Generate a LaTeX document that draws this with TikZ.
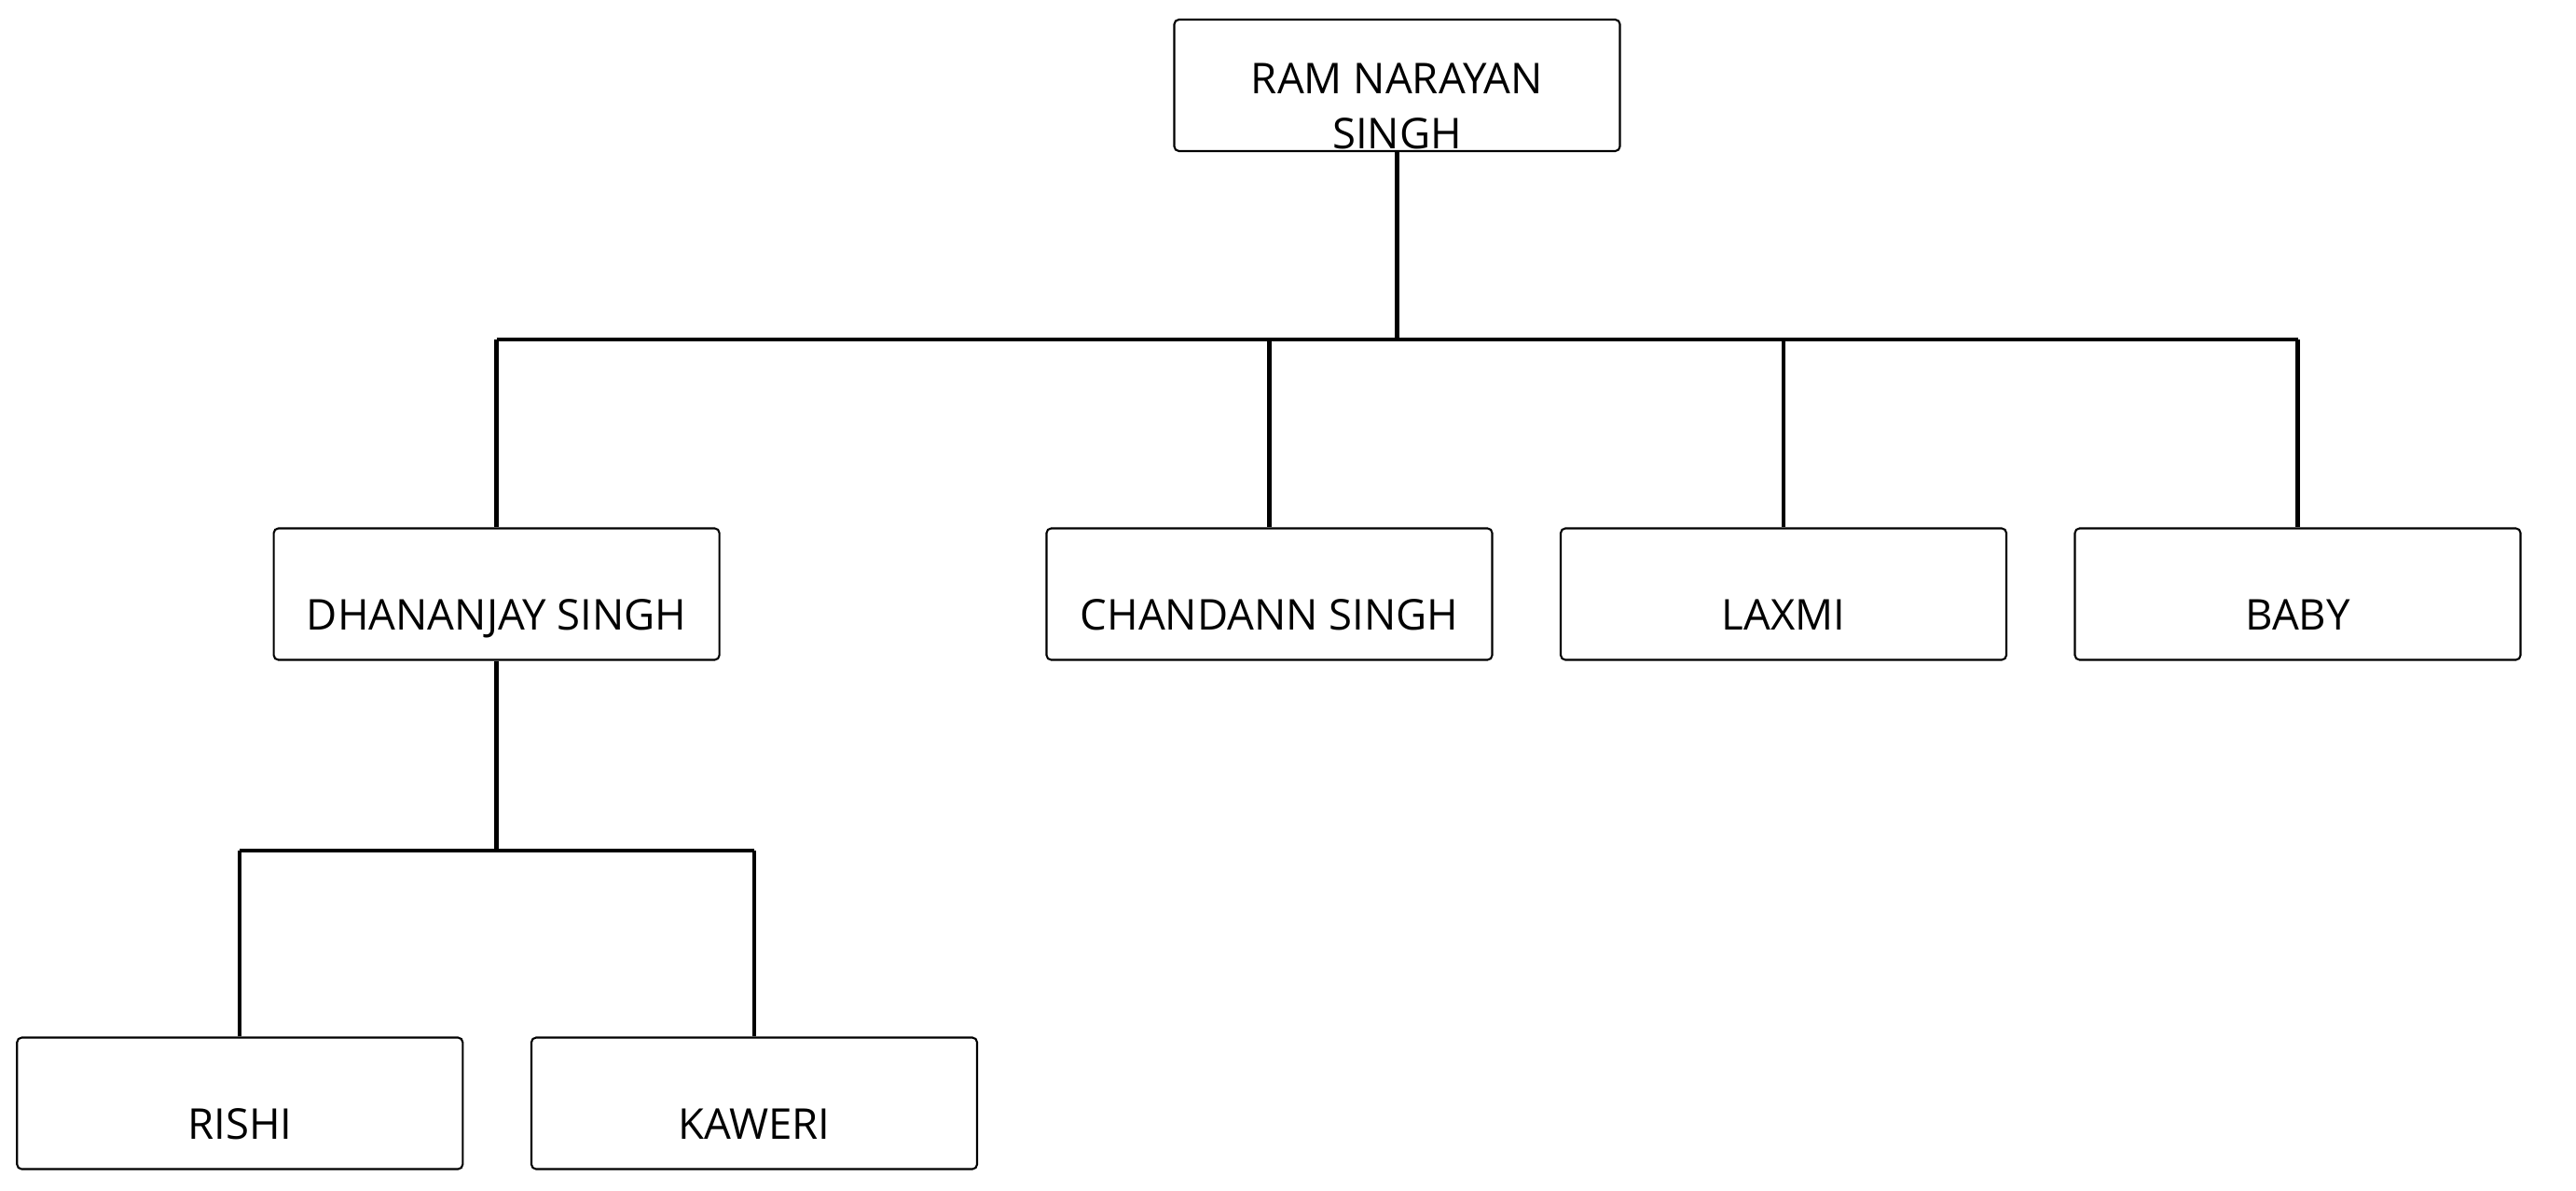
\documentclass[tikz,border=0pt]{standalone}
\usepackage{fontspec}
\setmainfont{Open Sans}
\begin{document}
\begin{tikzpicture}[
  personbox/.style = {draw = black, line width = 0.6pt, rounded corners = 0.05cm, minimum width = 4.78cm, minimum height = 1.41cm, inner sep = 0pt},
  persontext/.style = {anchor = base, inner sep = 0pt, align = center, font = \fontsize{12.95}{16.6}\selectfont},
  link/.style = {draw = black, line width = 1.2pt}
]
\useasboundingbox (0,0) rectangle (27.63,-12.76);
\node[personbox] (ram) at (14.985,-0.915) {};
\node[personbox] (dhananjay) at (5.326,-6.37) {};
\node[personbox] (chandann) at (13.615,-6.37) {};
\node[personbox] (laxmi) at (19.13,-6.37) {};
\node[personbox] (baby) at (24.645,-6.37) {};
\node[personbox] (rishi) at (2.573,-11.83) {};
\node[personbox] (kaweri) at (8.09,-11.83) {};
\node[persontext] (ram-txt) at ([yshift=0.04cm]ram.south) {RAM NARAYAN\\SINGH};
\foreach \who/\name in {dhananjay/DHANANJAY SINGH, chandann/CHANDANN SINGH, laxmi/LAXMI, baby/BABY, rishi/RISHI, kaweri/KAWERI}
  \node[persontext] (\who-txt) at ([yshift=0.33cm]\who.south) {\name};
\coordinate (bar1) at (0,-3.64);
\coordinate (bar2) at (0,-9.12);
\draw[link] (ram.south) -- (ram |- bar1);
\draw[link] (dhananjay |- bar1) -- (baby |- bar1);
\foreach \who in {dhananjay, chandann, laxmi, baby} \draw[link] (\who |- bar1) -- (\who.north);
\draw[link] (dhananjay.south) -- (dhananjay |- bar2);
\draw[link] (rishi |- bar2) -- (kaweri |- bar2);
\foreach \who in {rishi, kaweri} \draw[link] (\who |- bar2) -- (\who.north);
\end{tikzpicture}
\end{document}
